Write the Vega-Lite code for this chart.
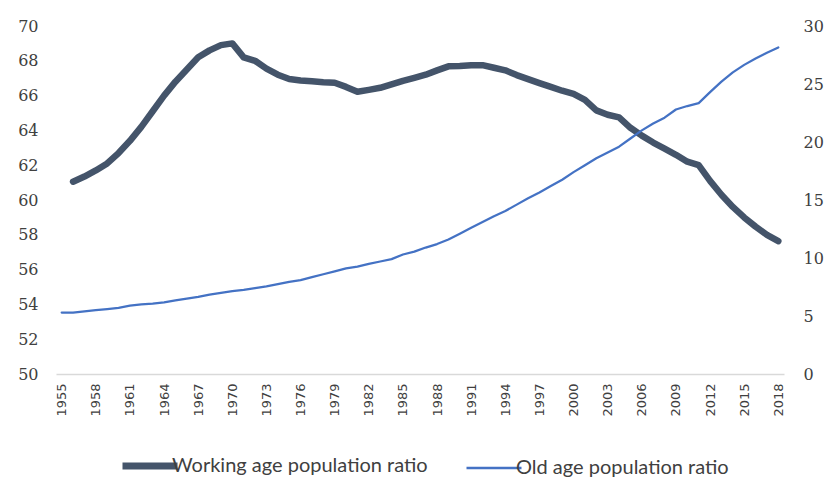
{
  "$schema": "https://vega.github.io/schema/vega-lite/v6.json",
  "autosize": "none",
  "width": 728,
  "height": 348,
  "padding": {"left": 56, "top": 26, "right": 56, "bottom": 130},
  "background": "white",
  "config": {
    "view": {"stroke": null},
    "axisY": {
      "ticks": false,
      "domain": false,
      "grid": false,
      "labelFont": "DejaVu Serif",
      "labelFontSize": 16,
      "labelColor": "#404040"
    }
  },
  "data": {"values": [
    {"year": 1955, "working": null, "old": 5.3},
    {"year": 1956, "working": 61.05, "old": 5.3},
    {"year": 1957, "working": 61.35, "old": 5.4},
    {"year": 1958, "working": 61.7, "old": 5.5},
    {"year": 1959, "working": 62.1, "old": 5.6},
    {"year": 1960, "working": 62.7, "old": 5.7},
    {"year": 1961, "working": 63.4, "old": 5.9},
    {"year": 1962, "working": 64.2, "old": 6.0},
    {"year": 1963, "working": 65.1, "old": 6.06},
    {"year": 1964, "working": 66.0, "old": 6.18},
    {"year": 1965, "working": 66.8, "old": 6.35},
    {"year": 1966, "working": 67.5, "old": 6.5},
    {"year": 1967, "working": 68.2, "old": 6.65},
    {"year": 1968, "working": 68.6, "old": 6.85},
    {"year": 1969, "working": 68.9, "old": 7.0},
    {"year": 1970, "working": 69.0, "old": 7.15},
    {"year": 1971, "working": 68.2, "old": 7.25},
    {"year": 1972, "working": 68.0, "old": 7.4},
    {"year": 1973, "working": 67.55, "old": 7.55},
    {"year": 1974, "working": 67.2, "old": 7.75},
    {"year": 1975, "working": 66.95, "old": 7.95},
    {"year": 1976, "working": 66.87, "old": 8.1},
    {"year": 1977, "working": 66.82, "old": 8.35},
    {"year": 1978, "working": 66.77, "old": 8.6},
    {"year": 1979, "working": 66.74, "old": 8.85},
    {"year": 1980, "working": 66.5, "old": 9.1},
    {"year": 1981, "working": 66.22, "old": 9.25},
    {"year": 1982, "working": 66.33, "old": 9.5},
    {"year": 1983, "working": 66.45, "old": 9.7},
    {"year": 1984, "working": 66.65, "old": 9.9},
    {"year": 1985, "working": 66.85, "old": 10.3},
    {"year": 1986, "working": 67.02, "old": 10.55},
    {"year": 1987, "working": 67.2, "old": 10.9},
    {"year": 1988, "working": 67.45, "old": 11.2},
    {"year": 1989, "working": 67.68, "old": 11.6},
    {"year": 1990, "working": 67.7, "old": 12.1},
    {"year": 1991, "working": 67.75, "old": 12.6},
    {"year": 1992, "working": 67.75, "old": 13.1},
    {"year": 1993, "working": 67.6, "old": 13.6},
    {"year": 1994, "working": 67.45, "old": 14.05},
    {"year": 1995, "working": 67.18, "old": 14.6},
    {"year": 1996, "working": 66.95, "old": 15.15},
    {"year": 1997, "working": 66.72, "old": 15.65},
    {"year": 1998, "working": 66.5, "old": 16.2},
    {"year": 1999, "working": 66.28, "old": 16.75},
    {"year": 2000, "working": 66.1, "old": 17.4},
    {"year": 2001, "working": 65.75, "old": 18.0},
    {"year": 2002, "working": 65.15, "old": 18.6},
    {"year": 2003, "working": 64.9, "old": 19.1},
    {"year": 2004, "working": 64.75, "old": 19.6},
    {"year": 2005, "working": 64.15, "old": 20.3},
    {"year": 2006, "working": 63.7, "old": 21.0},
    {"year": 2007, "working": 63.3, "old": 21.6},
    {"year": 2008, "working": 62.95, "old": 22.1},
    {"year": 2009, "working": 62.6, "old": 22.8},
    {"year": 2010, "working": 62.2, "old": 23.1},
    {"year": 2011, "working": 62.0, "old": 23.35},
    {"year": 2012, "working": 61.1, "old": 24.3},
    {"year": 2013, "working": 60.3, "old": 25.2},
    {"year": 2014, "working": 59.6, "old": 26.0},
    {"year": 2015, "working": 59.0, "old": 26.65},
    {"year": 2016, "working": 58.47, "old": 27.2},
    {"year": 2017, "working": 58.0, "old": 27.7},
    {"year": 2018, "working": 57.64, "old": 28.15}
  ]},
  "encoding": {
    "x": {
      "field": "year",
      "type": "ordinal",
      "scale": {"type": "point", "padding": 0.5},
      "axis": {
        "title": null,
        "values": [1955, 1958, 1961, 1964, 1967, 1970, 1973, 1976, 1979, 1982, 1985, 1988, 1991, 1994, 1997, 2000, 2003, 2006, 2009, 2012, 2015, 2018],
        "labelAngle": -90,
        "labelPadding": 9,
        "labelFont": "DejaVu Sans",
        "labelFontSize": 13,
        "labelColor": "#404040",
        "ticks": false,
        "grid": false,
        "domainColor": "#d9d9d9",
        "domainWidth": 1.5,
        "labelOverlap": false,
        "labelFlush": false,
        "labelLimit": 100
      }
    }
  },
  "layer": [
    {
      "mark": {"type": "line", "strokeWidth": 6.5, "strokeCap": "round", "strokeJoin": "round"},
      "encoding": {
        "y": {
          "field": "working",
          "type": "quantitative",
          "scale": {"domain": [50, 70], "nice": false, "zero": false},
          "axis": {
            "title": null,
            "orient": "left",
            "values": [50, 52, 54, 56, 58, 60, 62, 64, 66, 68, 70],
            "labelPadding": 18
          }
        },
        "color": {
          "datum": "Working age population ratio",
          "type": "nominal",
          "scale": {"domain": ["Working age population ratio", "Old age population ratio"], "range": ["#44546a", "#4472c4"]},
          "legend": {
            "title": null,
            "orient": "none",
            "direction": "horizontal",
            "legendX": 84,
            "legendY": 430,
            "symbolType": "stroke",
            "symbolSize": 3025,
            "labelFont": "Lato",
            "labelFontSize": 20,
            "labelColor": "#404040",
            "labelLimit": 400,
            "labelOffset": 12,
            "columnPadding": 33,
            "encode": {"symbols": {"update": {"strokeWidth": {"signal": "datum.index === 0 ? 7 : 2.5"}}}}
          }
        }
      }
    },
    {
      "mark": {"type": "line", "strokeWidth": 2.25, "strokeCap": "round", "strokeJoin": "round"},
      "encoding": {
        "y": {
          "field": "old",
          "type": "quantitative",
          "scale": {"domain": [0, 30], "nice": false},
          "axis": {
            "title": null,
            "orient": "right",
            "values": [0, 5, 10, 15, 20, 25, 30],
            "labelPadding": 19
          }
        },
        "color": {"datum": "Old age population ratio", "type": "nominal"}
      }
    }
  ],
  "resolve": {"scale": {"y": "independent"}}
}
